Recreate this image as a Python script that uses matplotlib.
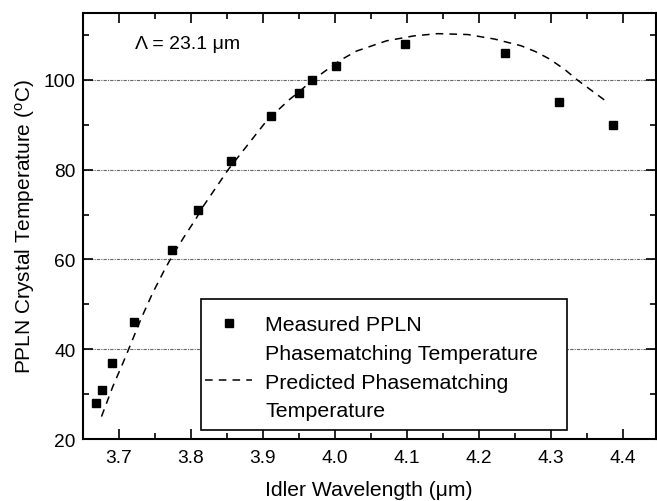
import matplotlib
matplotlib.use("Agg")
import matplotlib.pyplot as plt
from matplotlib.patches import Rectangle
from matplotlib.lines import Line2D
from matplotlib.ticker import MultipleLocator

plt.rcParams['font.family'] = ['Liberation Sans', 'DejaVu Sans']
plt.rcParams['mathtext.fontset'] = 'custom'
plt.rcParams['mathtext.rm'] = 'Liberation Sans'
plt.rcParams['mathtext.it'] = 'Liberation Sans:italic'

# Measured phasematching temperature
meas_wl = [3.669, 3.677, 3.691, 3.721, 3.774, 3.810, 3.856, 3.911, 3.951, 3.968,
           4.002, 4.097, 4.237, 4.311, 4.386]
meas_T = [28.0, 31.0, 37.0, 46.0, 62.0, 71.0, 82.0, 92.0, 97.0, 100.0,
          103.0, 108.0, 106.0, 95.0, 90.0]

# Predicted phasematching temperature
pred_wl = [3.676, 3.692, 3.706, 3.715, 3.731, 3.747, 3.763, 3.775, 3.793, 3.807,
           3.818, 3.852, 3.906, 3.937, 3.951, 3.968, 4.007, 4.030, 4.072, 4.110,
           4.143, 4.185, 4.222, 4.259, 4.279, 4.298, 4.319, 4.337, 4.380]
pred_T = [25.0, 31.8, 37.0, 40.5, 46.8, 52.5, 57.5, 61.0, 65.6, 69.0,
          72.0, 80.0, 91.0, 95.6, 97.4, 99.8, 104.3, 106.4, 108.7, 109.8,
          110.3, 110.1, 109.1, 107.6, 106.3, 104.7, 102.4, 100.0, 94.9]

xticks = [3.7, 3.8, 3.9, 4.0, 4.1, 4.2, 4.3, 4.4]
yticks = [20, 40, 60, 80, 100]
grid_T = [40, 60, 80, 100]

fig = plt.figure(figsize=(6.57, 5.02), dpi=100)
ax = fig.add_axes([0.126, 0.1235, 0.872, 0.8495])

for g in grid_T:
    ax.axhline(g, color='0.4', lw=0.8, linestyle=(0, (3, 1, 1, 1)), zorder=1)

ax.plot(pred_wl, pred_T, color='black', lw=1.1, linestyle=(0, (5, 4)), zorder=2)
ax.plot(meas_wl, meas_T, linestyle='none', marker='s', ms=5.5, color='black', zorder=4)

ax.set_xlim(3.65, 4.446)
ax.set_ylim(20, 115)
ax.set_xticks(xticks)
ax.set_xticklabels([f"{v:.1f}" for v in xticks])
ax.set_yticks(yticks)
ax.xaxis.set_minor_locator(MultipleLocator(0.05))
ax.yaxis.set_minor_locator(MultipleLocator(10))
ax.tick_params(which='both', direction='in', top=True, right=True, labelsize=13.8, width=1.2)
ax.tick_params(which='major', length=7)
ax.tick_params(axis='x', which='major', pad=7)
ax.tick_params(axis='y', which='major', pad=5)
ax.tick_params(which='minor', length=4)
for s in ax.spines.values():
    s.set_linewidth(1.5)

ax.set_xlabel('Idler Wavelength (μm)', fontsize=15.2, labelpad=10)
ax.set_ylabel('PPLN Crystal Temperature ($^{\\mathrm{o}}$C)', fontsize=15, labelpad=5)

ax.text(3.722, 108.0, 'Λ = 23.1 μm', fontsize=14, ha='left', va='center')

# legend frame
rect = Rectangle((0.2065, 0.020), 0.8445 - 0.2065, 0.328 - 0.020, transform=ax.transAxes,
                 facecolor='white', edgecolor='black', lw=1.2, zorder=5)
ax.add_patch(rect)

handles = [Line2D([], [], linestyle='none', marker='s', ms=5.5, color='black'),
           Line2D([], [], linestyle='none'),
           Line2D([], [], color='black', lw=1.1, linestyle=(0, (5, 4))),
           Line2D([], [], linestyle='none')]
labels = ['Measured PPLN', 'Phasematching Temperature', 'Predicted Phasematching', 'Temperature']
leg = ax.legend(handles, labels, loc='upper left', bbox_to_anchor=(0.2135, 0.290),
                frameon=False, fontsize=15.4, borderpad=0, borderaxespad=0,
                handlelength=2.2, handletextpad=0.62, labelspacing=0.45)
leg.set_zorder(6)

fig.savefig('out.png', dpi=100)
